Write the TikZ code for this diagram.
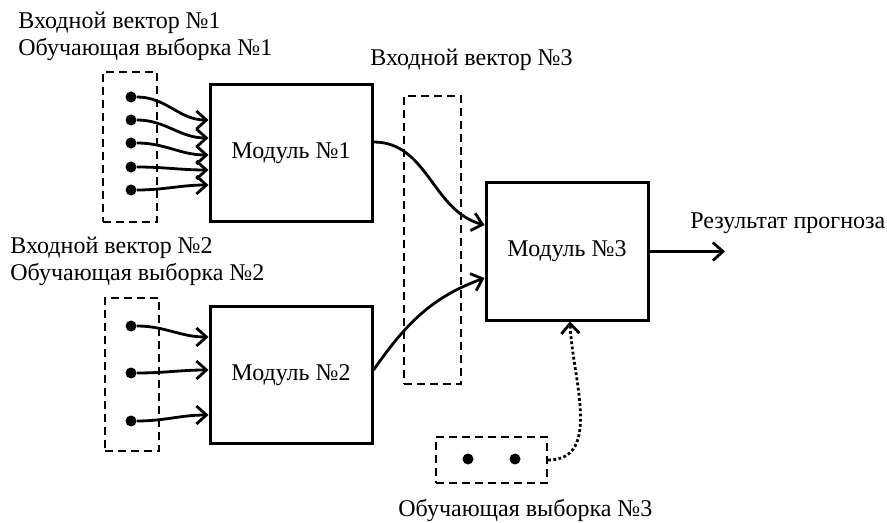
\documentclass[tikz,border=0pt]{standalone}
\usepackage{fontspec}
\setmainfont{Liberation Serif}
\usetikzlibrary{arrows.meta}

\begin{document}
\begin{tikzpicture}[x=0.5pt,y=-0.5pt,
  module/.style={draw, line width=1.5pt, minimum width=81pt, minimum height=68.5pt, font=\fontsize{12}{14}\selectfont},
  group/.style={draw, line width=1.2pt, dash pattern=on 4pt off 2.5pt, inner sep=0pt},
  pin/.style={circle, fill, inner sep=0pt, minimum size=5.5pt},
  wire/.style={line width=1.4pt, -{Straight Barb[length=5pt,width=9pt]}},
  caption/.style={anchor=west, inner sep=0pt, align=left, font=\fontsize{12}{13.5}\selectfont}]

\useasboundingbox (0,0) rectangle (887,523);

% --- modules ---
\node[module] (m1) at (291,153.5) {Модуль №1};
\node[module] (m2) at (291,375) {Модуль №2};
\node[module] (m3) at (567,251.5) {Модуль №3};

% --- dashed groups ---
\node[group, minimum width=27pt, minimum height=75pt] (g1) at (130,147) {};
\node[group, minimum width=27pt, minimum height=76.5pt] (g2) at (132,374.5) {};
\node[group, minimum width=28.5pt, minimum height=144pt] (g3) at (432.5,240) {};
\node[group, minimum width=55.5pt, minimum height=23pt] (g4) at (491.5,460) {};

% --- inputs of module 1 ---
\foreach \y/\e [count=\i] in {97/16.75, 120/7.75, 143/-0.75, 167/-8.25, 190/-15.75} {
  \node[pin] (a\i) at (131,\y) {};
  \draw[wire] (a\i) to[out=0,in=180] ([yshift=\e pt]m1.west);
}

% --- inputs of module 2 ---
\foreach \y/\e [count=\i] in {326/19, 373/2.5, 421/-20} {
  \node[pin] (b\i) at (131,\y) {};
  \draw[wire] (b\i) to[out=0,in=180] ([yshift=\e pt]m2.west);
}

% --- training set 3 ---
\node[pin] (c1) at (468,459) {};
\node[pin] (c2) at (515,459) {};

% --- connections ---
\draw[wire] ([yshift=5.75pt]m1.east) to[out=0,in=165] ([yshift=13.25pt]m3.west);
\draw[wire] ([yshift=2.5pt]m2.east) to[out=55,in=200] ([yshift=-13.25pt]m3.west);
\draw[wire, dash pattern=on 1.4pt off 1.2pt] (g4.east) to[out=0,in=-88] ([xshift=1.5pt]m3.south);

\coordinate (res) at (725,251.5);
\draw[wire] (m3.east) -- (res);

% --- captions ---
\node[caption] (t1) at (18,36.5) {Входной вектор №1\\Обучающая выборка №1};
\node[caption] (t2) at (10,261.5) {Входной вектор №2\\Обучающая выборка №2};
\node[caption] (t3) at (370,60) {Входной вектор №3};
\node[caption] (t4) at (398,510) {Обучающая выборка №3};
\node[caption] (t5) at (690,223) {Результат прогноза};
\end{tikzpicture}
\end{document}
